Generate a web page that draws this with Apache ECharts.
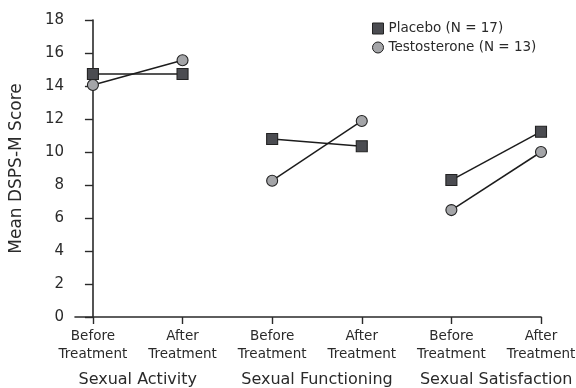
<!DOCTYPE html>
<html><head><meta charset="utf-8">
<script src="https://cdn.jsdelivr.net/npm/echarts@6/dist/echarts.min.js"></script>
<style>html,body{margin:0;padding:0;background:#fff}#c{width:576px;height:388px}</style>
</head><body><div id="c"></div>
<script>
const categories = ['Sexual Activity', 'Sexual Functioning', 'Sexual Satisfaction'];
const timepoints = ['Before\nTreatment', 'After\nTreatment'];
const seriesNames = ['Placebo (N = 17)', 'Testosterone (N = 13)'];
const placebo = [[14.73, 14.73], [10.79, 10.35], [8.30, 11.23]];
const testosterone = [[14.06, 15.56], [8.26, 11.88], [6.48, 10.00]];

const FONT = 'DejaVu Sans';
const TXT = '#2a2a2a';
const tickPos = [];
const tickText = {};
categories.forEach((c, i) => timepoints.forEach((t, j) => { tickPos.push(2 * i + j); tickText[2 * i + j] = t; }));
const groupPos = categories.map((c, i) => 2 * i + 0.5);

const styles = [
  { symbol: 'rect', color: '#4b4c51', border: '#222' },
  { symbol: 'circle', color: '#a4a5a8', border: '#222' }
];
const series = [];
[placebo, testosterone].forEach((vals, s) => {
  vals.forEach((pair, i) => {
    series.push({
      name: seriesNames[s], type: 'line',
      data: pair.map((v, j) => [2 * i + j, v]),
      symbol: styles[s].symbol, symbolSize: 11,
      lineStyle: { color: '#1c1c1c', width: 1.5 },
      itemStyle: { color: styles[s].color, borderColor: styles[s].border, borderWidth: 1.1 },
      emphasis: { disabled: true }, animation: false, z: 2 + s
    });
  });
});

const chart = echarts.init(document.getElementById('c'), null, { renderer: 'canvas' });
chart.setOption({
  backgroundColor: '#fff',
  animation: false,
  textStyle: { fontFamily: FONT },
  grid: { left: 75, right: 35, top: 20, bottom: 71, containLabel: false, outerBoundsMode: 'none' },
  legend: {
    orient: 'vertical', left: 367, top: 14, itemWidth: 11, itemHeight: 11, itemGap: 0,
    textStyle: { fontFamily: FONT, fontSize: 13.5, color: TXT, lineHeight: 19 },
    data: [
      { name: seriesNames[0], icon: 'rect', itemStyle: { color: styles[0].color, borderColor: styles[0].border, borderWidth: 1 } },
      { name: seriesNames[1], icon: 'circle', itemStyle: { color: styles[1].color, borderColor: styles[1].border, borderWidth: 1 } }
    ]
  },
  xAxis: [{
    type: 'value', min: -0.2, max: 5,
    axisLine: { lineStyle: { color: '#2a2a2a', width: 1.6 } },
    axisTick: { customValues: tickPos, length: 7, lineStyle: { color: '#2a2a2a', width: 1.4 } },
    axisLabel: { customValues: tickPos, formatter: v => tickText[v], fontFamily: FONT, fontSize: 13.5, color: TXT, lineHeight: 18, margin: 10 },
    splitLine: { show: false }
  }, {
    type: 'value', min: -0.2, max: 5, position: 'bottom',
    axisLine: { show: false }, axisTick: { show: false },
    axisLabel: { customValues: groupPos, formatter: v => categories[Math.round((v - 0.5) / 2)], fontFamily: FONT, fontSize: 16, color: TXT, margin: 55 },
    splitLine: { show: false }
  }],
  yAxis: {
    type: 'value', min: 0, max: 18, interval: 2,
    name: 'Mean DSPS-M Score', nameLocation: 'middle', nameGap: 50,
    nameTextStyle: { fontFamily: FONT, fontSize: 17, color: TXT },
    axisLine: { show: true, lineStyle: { color: '#2a2a2a', width: 1.6 } },
    axisTick: { show: true, length: 8, lineStyle: { color: '#2a2a2a', width: 1.4 } },
    axisLabel: { fontFamily: FONT, fontSize: 15, color: TXT, margin: 11 },
    splitLine: { show: false }
  },
  series: series
});
</script></body></html>
